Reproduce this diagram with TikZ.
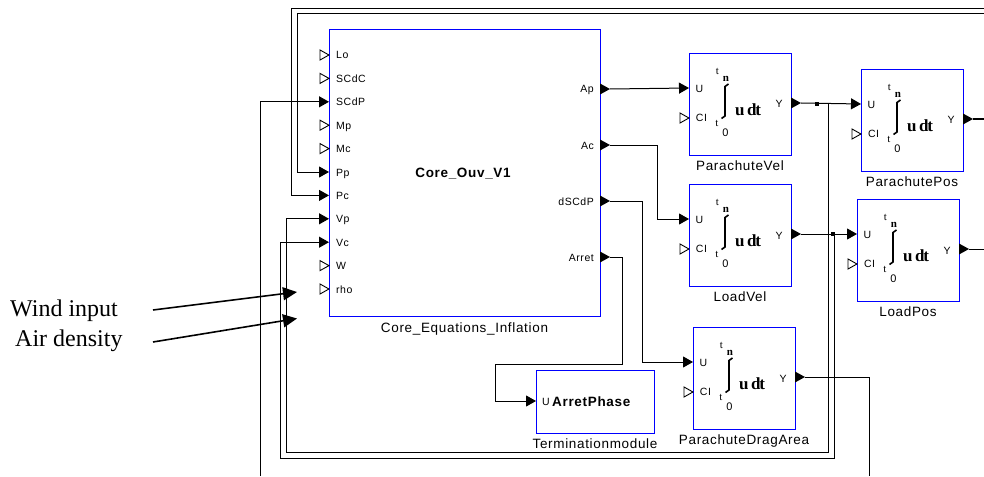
\documentclass[tikz,border=0pt]{standalone}
\usepackage{fontspec}
\setmainfont{Liberation Serif}
\setsansfont{Liberation Sans}
\newfontfamily\lblfont[LetterSpace=5]{Liberation Sans}
\usetikzlibrary{arrows.meta}

\tikzset{
  blk/.style={draw=blue, line width=1.2pt, inner sep=0pt, anchor=north west},
  wire/.style={line width=1pt, line join=miter},
  wirein/.style={wire, -{Triangle[length=10pt,width=11pt]}},
  blklabel/.style={font=\lblfont\fontsize{13.5}{15}\selectfont, inner sep=0pt, anchor=base},
  portlabel/.style={font=\lblfont\fontsize{10.5}{12}\selectfont, inner sep=0pt},
  note/.style={font=\fontsize{24}{26}\selectfont, inner sep=0pt, anchor=base west},
  notearrow/.style={line width=1.6pt, -{Triangle[length=14pt,width=13pt]}},
  jdot/.style={fill=black, inner sep=0pt, minimum size=4pt, rectangle},
  smallserif/.style={font=\fontsize{11}{12}\selectfont, inner sep=0pt},
}

\newcommand\hollowin[1]{\draw[line width=0.9pt, fill=white] (#1) -- ++(-9,-5) -- ++(0,10) -- cycle;}
\newcommand\outtri[1]{\fill (#1) -- ++(0,-5.5) -- ++(10,5.5) -- ++(-10,5.5) -- cycle;}

% #1 name, #2 x, #3 y (top-left), #4 label
\newcommand\integ[4]{%
\begin{scope}[shift={(#2,#3)}]
  \node[blk, minimum width=102pt, minimum height=102pt] (#1) at (0,0) {};
  \node[blklabel] (#1-lbl) at (51,117.5) {#4};
  \node[portlabel, anchor=base] (#1-ul) at (10.5,39.5) {U};
  \node[portlabel, anchor=base] (#1-cl) at (12.5,68.5) {CI};
  \node[portlabel, anchor=base] (#1-yl) at (90,55) {Y};
  \node[smallserif] (#1-tn) at (28.5,18.5) {t};
  \node[smallserif, font=\bfseries\fontsize{11}{12}\selectfont] (#1-n) at (37,25.5) {n};
  \draw[line width=1.6pt] (39.5,31) -- (36,33.5) -- (36,63) -- (32.5,65.5);
  \node[smallserif] (#1-t0) at (28,70.5) {t};
  \node[smallserif, font=\sffamily\fontsize{11}{12}\selectfont] (#1-z) at (36.5,79.5) {0};
  \node[inner sep=0pt, font=\bfseries\fontsize{17}{19}\selectfont] (#1-udt) at (59,57) {u\hspace{2.5pt}d\kern-1.2pt t};
  \coordinate (#1-U) at (0,35);
  \coordinate (#1-Y) at (112,50);
  \outtri{102,50}
  \hollowin{0,65}
\end{scope}}

\begin{document}
\begin{tikzpicture}[x=1pt, y=-1pt]
\useasboundingbox[fill=white] (0,0) rectangle (984,476);

% ---------- core block ----------
\node[blk, minimum width=271pt, minimum height=287pt] (core) at (329,29) {};
\node[blklabel] (corelbl) at (464.5,332.5) {Core\_Equations\_Inflation};
\node[inner sep=0pt, anchor=base, font=\lblfont\bfseries\fontsize{13.5}{15}\selectfont] (coretitle) at (463,177) {Core\_Ouv\_V1};

\foreach \n [count=\k from 0] in {Lo,SCdC,SCdP,Mp,Mc,Pp,Pc,Vp,Vc,W,rho} {
  \coordinate (core-\n) at (329,55+23.4*\k);
  \node[portlabel, anchor=base west] (lbl-\n) at (336,59+23.4*\k) {\n};
}
\foreach \n in {Lo,SCdC,Mp,Mc,W,rho} { \hollowin{core-\n} }

\foreach \n/\y in {Ap/89,Ac/145,dSCdP/201,Arret/257} {
  \coordinate (core-\n) at (610,\y);
  \node[portlabel, anchor=base east] (lbl-\n) at (594,\y+4) {\n};
  \outtri{600,\y}
}

% ---------- integrators ----------
\integ{PV}{689}{53}{ParachuteVel}
\integ{PP}{861}{69}{ParachutePos}
\integ{LV}{689}{184}{LoadVel}
\integ{LP}{857}{199}{LoadPos}
\integ{PDA}{693}{327}{ParachuteDragArea}

% ---------- termination module ----------
\node[blk, minimum width=118pt, minimum height=63pt] (AP) at (536,370) {};
\node[blklabel] (APlbl) at (595,448.5) {Terminationmodule};
\node[portlabel, anchor=base] (APu) at (546,405) {U};
\node[inner sep=0pt, anchor=base west, font=\lblfont\bfseries\fontsize{13.5}{15}\selectfont] (APtxt) at (552,406) {ArretPhase};
\coordinate (AP-U) at (536,401);

% ---------- free ends ----------
\coordinate (offT1) at (984,9);
\coordinate (offT2) at (984,14);
\coordinate (offB1) at (260,476);
\coordinate (offB2) at (869,476);
\coordinate (offR1) at (984,119);
\coordinate (offR2) at (984,249);
\coordinate (jPV) at (828,104);
\coordinate (jLV) at (834,234);

% ---------- wires ----------
\draw[wirein] (offT1) -- (291,9) |- (core-Pc);
\draw[wirein] (offT2) -- (297,14) |- (core-Pp);
\draw[wirein] (offB1) |- (core-SCdP);

\draw[wirein] (core-Ap) -- (PV-U);
\draw[wirein] (core-Ac) -- (657,145) |- (LV-U);
\draw[wirein] (core-dSCdP) -- (642,201) |- (PDA-U);
\draw[wirein] (core-Arret) -- (622,257) -- (622,364) -- (495,364) |- (AP-U);

\draw[wirein] (PV-Y) -- (PP-U);
\node[jdot] (d1) at (817,104) {};
\draw[wirein] (jPV) -- (828,452) -- (286,452) |- (core-Vp);

\draw[wirein] (LV-Y) -- (LP-U);
\node[jdot] (d2) at (833,234) {};
\draw[wirein] (jLV) -- (834,458) -- (280,458) |- (core-Vc);

\draw[wire] (PP-Y) -- (offR1);
\draw[wire] (LP-Y) -- (offR2);
\draw[wire] (PDA-Y) -| (offB2);

% ---------- annotations ----------
\node[note] (wind) at (10,316.5) {Wind input};
\node[note] (air) at (15,346.5) {Air density};
\coordinate (w0) at (153,310);
\coordinate (w1) at (297,292);
\coordinate (a0) at (153,342);
\coordinate (a1) at (297,318.5);
\draw[notearrow] (w0) -- (w1);
\draw[notearrow] (a0) -- (a1);
\end{tikzpicture}
\end{document}
